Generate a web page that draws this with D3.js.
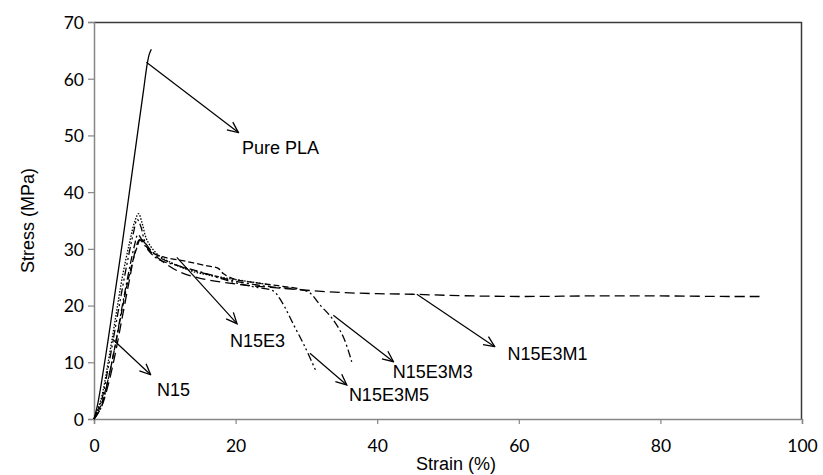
<!DOCTYPE html>
<html>
<head>
<meta charset="utf-8">
<script src="https://cdn.jsdelivr.net/npm/d3@7"></script>
<style>
  body { margin: 0; background: #fff; }
  svg { display: block; }
</style>
</head>
<body>
<svg id="chart" width="823" height="475"></svg>
<script>
// stress-strain curves, [strain %, stress MPa]
const pla = [[0,0],[0.5,2.5],[1,6],[2,14],[3,22.5],[4,31],[5,40],[6,49],[7,58],[7.5,62.5],[7.8,64.3],[8.1,65.2]];
const n15 = [[0,0],[1,3.5],[2,10],[3,17.5],[4,25],[5,31],[5.8,35],[6.3,36.2],[6.8,34.5],[7.5,31.5],[9,29],[11,27.5],[14,26],[18,25],[22,24.2],[25,23.6]];
const n15e3 = [[0,0],[1,2.5],[2,7],[3,13],[4,19.5],[5,25.5],[6,30],[6.6,31.8],[7.2,31],[8,29.5],[10,28.5],[13,27.8],[16,27],[17.5,26.6],[18.3,25.6],[20,24.6],[23,24],[26,23.5],[29,23]];
const n15e3m1 = [[0,0],[1,2],[2,6],[3,11.5],[4,18],[5,24.5],[5.8,29.5],[6.4,31.6],[7,31],[8,29.5],[10,27.5],[12,26],[15,24.8],[20,23.8],[25,23.2],[30,22.7],[35,22.3],[40,22.1],[45,22],[50,21.8],[60,21.6],[70,21.7],[80,21.7],[90,21.6],[94,21.6]];
const n15e3m3 = [[0,0],[1,2],[2,7],[3,13],[4,20],[5,26.5],[5.7,30.5],[6.2,32.5],[6.8,31.5],[7.5,30],[9,28.2],[12,27],[16,25.6],[20,24.3],[25,23.3],[28,23],[30.3,22.4],[32,20],[33.6,17.8],[35.2,14.5],[36.4,10.1]];
const n15e3m5 = [[0,0],[1,3],[2,9],[3,16],[4,23],[5,29.5],[5.6,33],[6.1,35.2],[6.6,34],[7.3,31],[9,28.7],[12,27],[16,25.5],[20,24],[23,23.2],[25.3,22.6],[26.5,20.7],[28.2,16.6],[29.8,12.7],[31.4,8.3]];

const seriesNames = ["Pure PLA","N15","N15E3","N15E3M1","N15E3M3","N15E3M5"];
const seriesData = [pla, n15, n15e3, n15e3m1, n15e3m3, n15e3m5];
const seriesDash = [null, "1.5,1.5", "6,3", "10,5", "8,3,2,3", "8,3,2,3,2,3"];

// annotation arrows: from point, to point, label position (data units)
const arrowFrom = [[7.4,62.9],[2.6,14.1],[11.7,28.5],[45.6,22],[33.8,18.3],[30.5,11.6]];
const arrowTo   = [[20.4,50.5],[8.0,7.8],[20.2,16.8],[56.6,12.75],[42.3,10.1],[35.7,6.0]];
const labelPos  = [[20.9,46.8],[8.9,4.0],[19.2,12.7],[58.4,10.4],[42.2,7.2],[36.0,3.2]];

const xTicks = [0,20,40,60,80,100];
const yTicks = [0,10,20,30,40,50,60,70];

const svg = d3.select('#chart');
const margin = {top: 22, right: 21, bottom: 56, left: 94};
const width = 823 - margin.left - margin.right;
const height = 475 - margin.top - margin.bottom;

const labelFont = '"Liberation Sans", Arial, sans-serif';
const tickFont = 'Lato, "Open Sans", sans-serif';

const g = svg.append('g').attr('transform', `translate(${margin.left},${margin.top})`);

const x = d3.scaleLinear().domain([0, 100]).range([0, width]);
const y = d3.scaleLinear().domain([0, 70]).range([height, 0]);

// plot area border (top and right)
g.append('path')
    .attr('d', `M0,0.5 H${width - 0.5} V${height}`)
    .attr('fill', 'none')
    .attr('stroke', '#3a3a3a')
    .attr('stroke-width', 1.5);

// axes
let xAxis = g.append('g')
    .attr('transform', `translate(0,${height})`)
    .call(d3.axisBottom(x).tickValues(xTicks).tickSize(5).tickPadding(16));
let yAxis = g.append('g')
    .call(d3.axisLeft(y).tickValues(yTicks).tickSize(6).tickPadding(4));

[xAxis, yAxis].forEach(a => {
    a.select('.domain').attr('stroke', '#868686').attr('stroke-width', 1.5);
    a.selectAll('.tick line').attr('stroke', '#868686').attr('stroke-width', 1.2);
    a.selectAll('.tick text')
        .attr('fill', '#000')
        .style('font-family', tickFont)
        .style('font-size', '17.5px');
});
yAxis.selectAll('.tick text').attr('dy', '0.36em');

// axis titles
svg.append('text')
    .attr('x', 456)
    .attr('y', 470)
    .attr('text-anchor', 'middle')
    .style('font-family', labelFont)
    .style('font-size', '18px')
    .text('Strain (%)');

svg.append('text')
    .attr('transform', `translate(34,${margin.top + height / 2}) rotate(-90)`)
    .attr('text-anchor', 'middle')
    .style('font-family', labelFont)
    .style('font-size', '18px')
    .text('Stress (MPa)');

// curves
const line = d3.line()
    .x(d => x(d[0]))
    .y(d => y(d[1]))
    .curve(d3.curveCatmullRom.alpha(0.5));

seriesData.forEach((data, i) => {
    g.append('path')
        .datum(data)
        .attr('fill', 'none')
        .attr('stroke', '#000')
        .attr('stroke-width', 1.3)
        .attr('stroke-dasharray', seriesDash[i])
        .attr('d', line);
});

// arrow marker (open V)
svg.append('defs').append('marker')
    .attr('id', 'arrow')
    .attr('viewBox', '0 0 12 12')
    .attr('refX', 11)
    .attr('refY', 6)
    .attr('markerWidth', 13)
    .attr('markerHeight', 13)
    .attr('markerUnits', 'userSpaceOnUse')
    .attr('orient', 'auto')
    .append('path')
    .attr('d', 'M1,1.5 L11,6 L1,10.5')
    .attr('fill', 'none')
    .attr('stroke', '#000')
    .attr('stroke-width', 1.2);

seriesNames.forEach((name, i) => {
    g.append('line')
        .attr('x1', x(arrowFrom[i][0])).attr('y1', y(arrowFrom[i][1]))
        .attr('x2', x(arrowTo[i][0])).attr('y2', y(arrowTo[i][1]))
        .attr('stroke', '#000')
        .attr('stroke-width', 1.2)
        .attr('marker-end', 'url(#arrow)');
    g.append('text')
        .attr('x', x(labelPos[i][0]))
        .attr('y', y(labelPos[i][1]))
        .style('font-family', labelFont)
        .style('font-size', '18px')
        .text(name);
});
</script>
</body>
</html>
